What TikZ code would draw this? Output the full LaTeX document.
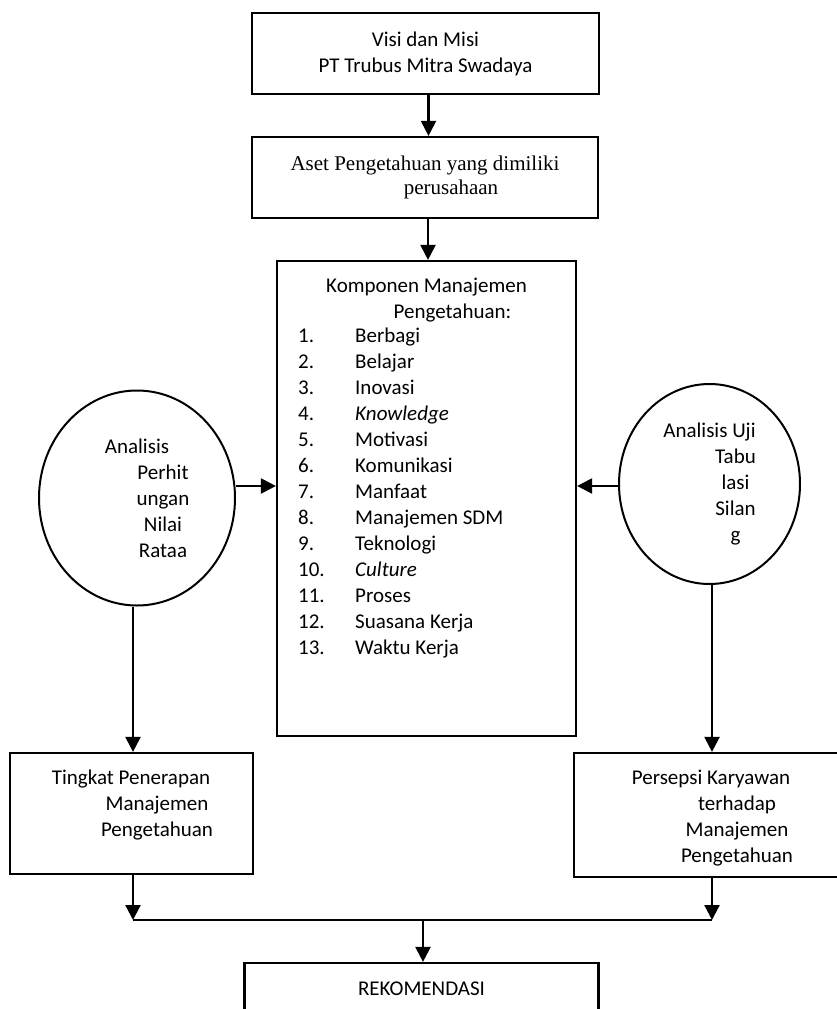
\documentclass[tikz,border=0pt]{standalone}
\usepackage{fontspec}
\setmainfont{Liberation Serif}
\newfontfamily\calfont{Carlito}
\usetikzlibrary{arrows.meta,shapes.geometric}
\begin{document}
\begin{tikzpicture}[x=1pt,y=-1pt,
  box/.style={draw,line width=2.2pt,rectangle,inner sep=0pt},
  txt/.style={font=\calfont\fontsize{21}{26}\selectfont,align=center,inner sep=0pt},
  circ/.style={draw,line width=2pt,ellipse,inner sep=0pt},
  arr/.style={line width=2.2pt,-{Triangle[length=15pt,width=15pt]}},
  ln/.style={line width=2.2pt}]
\useasboundingbox (0,0) rectangle (837,1009);
% top boxes
\node[box,minimum width=347pt,minimum height=81pt,txt] (visi) at (425.5,53.5) {Visi dan Misi\\PT Trubus Mitra Swadaya};
\node[box,minimum width=346pt,minimum height=81pt,font=\fontsize{21}{24}\selectfont,align=center] (aset) at (425,177.5) {Aset Pengetahuan yang dimiliki\\\hspace*{52pt}perusahaan};
% central box
\node[box,minimum width=299pt,minimum height=475pt] (komp) at (426.5,498.5) {};
\node[txt] (kjudul) at (426.5,300) {Komponen Manajemen\\\hspace*{52pt}Pengetahuan:};
\node[txt,anchor=north west] (klist) at (298,324) {\begin{tabular}{@{}p{57pt}@{}l@{}}
1. & Berbagi\\
2. & Belajar\\
3. & Inovasi\\
4. & \textit{Knowledge}\\
5. & Motivasi\\
6. & Komunikasi\\
7. & Manfaat\\
8. & Manajemen SDM\\
9. & Teknologi\\
10. & \textit{Culture}\\
11. & Proses\\
12. & Suasana Kerja\\
13. & Waktu Kerja
\end{tabular}};
% circles
\node[circ,minimum width=196pt,minimum height=215pt,txt] (anl) at (137,498) {Analisis\\\hspace*{52pt}Perhit\\\hspace*{52pt}ungan\\\hspace*{52pt}Nilai\\\hspace*{52pt}Rataa};
\node[circ,minimum width=181pt,minimum height=200pt,txt] (uji) at (709.5,484) {Analisis Uji\\\hspace*{52pt}Tabu\\\hspace*{52pt}lasi\\\hspace*{52pt}Silan\\\hspace*{52pt}g};
% lower boxes
\node[box,minimum width=243pt,minimum height=121pt] (tingkat) at (131.3,813.5) {};
\node[txt] (tingkatT) at (131,805) {Tingkat Penerapan\\\hspace*{52pt}Manajemen\\\hspace*{52pt}Pengetahuan};
\node[box,minimum width=276pt,minimum height=124pt] (persepsi) at (712,815) {};
\node[txt] (persepsiT) at (711,818) {Persepsi Karyawan\\\hspace*{52pt}terhadap\\\hspace*{52pt}Manajemen\\\hspace*{52pt}Pengetahuan};
\node[box,minimum width=354pt,minimum height=52pt,txt] (rek) at (421.5,989) {REKOMENDASI};
% connectors
\draw[arr] ([xshift=3pt]visi.south) -- ([xshift=3pt]visi.south |- aset.north);
\draw[arr] ([xshift=3pt]aset.south) -- ([xshift=3pt]aset.south |- komp.north);
\draw[arr] ([yshift=12pt]anl.east) -- ([yshift=12pt]anl.east -| komp.west);
\draw[arr] ([yshift=-2pt]uji.west) -- ([yshift=-2pt]uji.west -| komp.east);
\draw[arr] ([xshift=-4pt]anl.south) -- ([xshift=-4pt]anl.south |- tingkat.north);
\draw[arr] ([xshift=2.5pt]uji.south) -- ([xshift=2.5pt]uji.south |- persepsi.north);
\coordinate (jl) at (133,920);
\coordinate (jr) at (712,920);
\coordinate (jm) at (423,920);
\draw[arr] (tingkat.south -| jl) -- (jl);
\draw[arr] (persepsi.south -| jr) -- (jr);
\draw[ln] (jl) -- (jr);
\draw[arr] (jm) -- (jm |- rek.north);
\end{tikzpicture}
\end{document}
